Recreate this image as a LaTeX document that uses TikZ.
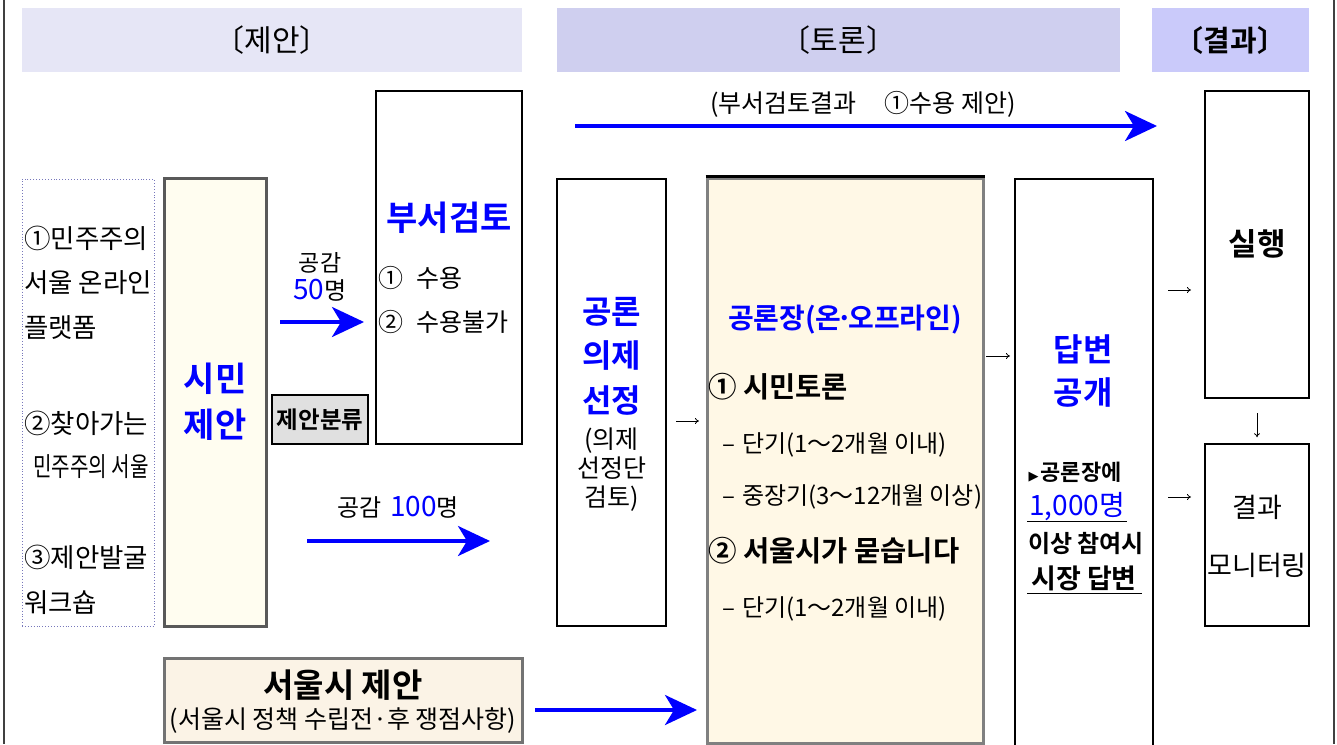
\documentclass[tikz,border=0pt]{standalone}
\usepackage{fontspec}
\usepackage{graphicx}
\setmainfont{Noto Sans CJK KR}[BoldFont={Noto Sans CJK KR Bold}]
\newfontfamily\dejavu{DejaVu Sans}
\usetikzlibrary{arrows.meta}
\definecolor{hdrA}{HTML}{E6E6F6}
\definecolor{hdrB}{HTML}{CFCFEF}
\definecolor{hdrC}{HTML}{CACAFA}
\definecolor{ivory}{HTML}{FFFDF0}
\definecolor{cream}{HTML}{FFF8E6}
\definecolor{beige}{HTML}{FBF3E6}
\definecolor{kblue}{HTML}{0000FF}
\definecolor{dotc}{HTML}{7777BB}
\newcommand\myfs[2]{\fontsize{#1}{#2}\selectfont}
\newcommand\mydash{–\hspace{7pt}}
\tikzset{
  hdr/.style={inner sep=0, minimum height=64},
  bbox/.style={draw=black, line width=2.5pt, inner sep=0, fill=white},
  gbox/.style={draw=black!65, line width=3pt, inner sep=0},
  txt/.style={inner sep=0, align=center},
  bigarrow/.style={draw=kblue, line width=3.5pt, -{Stealth[length=32pt,width=30pt,inset=9pt]}},
  smallarrow/.style={draw=black, line width=0.8pt, -{To[length=4pt,width=6pt]}},
}
\begin{document}
\begin{tikzpicture}[x=1pt,y=-1pt]
\useasboundingbox (0,0) rectangle (1337,744);
% frame lines
\draw[black!75, line width=2.5pt] (4,0) -- (4,744);
\draw[black!75, line width=2.5pt] (1334,0) -- (1334,744);

% headers
\node[hdr, fill=hdrA, minimum width=500] (hA) at (272,40) {};
\node[txt, font=\myfs{30}{32}] (hAt) at (hA) {〔제안〕};
\node[hdr, fill=hdrB, minimum width=563] (hB) at (838.5,40) {};
\node[txt, font=\myfs{30}{32}] (hBt) at (hB) {〔토론〕};
\node[hdr, fill=hdrC, minimum width=157] (hC) at (1230.5,40) {};
\node[txt, font=\myfs{29}{32}\bfseries] (hCt) at (hC) {〔결과〕};

% dotted channel box
\node[draw=dotc, dotted, line width=0.9pt, inner sep=0, minimum width=132, minimum height=447] (chan) at (88,402.5) {};
\begin{scope}[every node/.style={txt, anchor=west, font=\myfs{26.5}{28}}]
\node (c1) at (24,238) {①민주주의};
\node (c2) at (24,283) {서울 온라인};
\node (c3) at (24,328) {플랫폼};
\node (c4) at (24,423) {②찾아가는};
\node (c5) at (33,467) {\scalebox{0.76}[1]{민주주의 서울}};
\node (c6) at (24,557) {③제안발굴};
\node (c7) at (24,603) {워크숍};
\end{scope}

% citizen proposal
\node[gbox, draw=black!65, fill=ivory, minimum width=102, minimum height=448] (simin) at (215,402) {};
\node[txt, text=kblue, font=\myfs{34}{46}\bfseries] (simint) at (215,402) {시민\\제안};

% 50 sympathy
\node[txt, font=\myfs{23}{25}] (g50a) at (320,263) {공감};
\node[txt, font=\myfs{24}{27}] (g50b) at (320,290) {{\color{kblue}\myfs{28}{30}50}명};
\coordinate (a1s) at (280,322);
\coordinate (a1e) at (364,322);
\draw[bigarrow] (a1s) -- (a1e);

% classification
\node[bbox, fill=black!12, minimum width=96, minimum height=49, font=\myfs{23.5}{25}\bfseries] (bunryu) at (320,419.5) {제안분류};

% department review
\node[bbox, minimum width=146, minimum height=353] (buseo) at (449,267.5) {};
\node[txt, text=kblue, font=\myfs{34}{36}\bfseries] (buseot) at (449,218) {부서검토};
\node[txt, anchor=west, font=\myfs{25}{27}] (bs1) at (378,278) {①\hspace{13pt}수용};
\node[txt, anchor=west, font=\myfs{25}{27}] (bs2) at (378,322) {②\hspace{13pt}수용불가};

% 100 sympathy
\node[txt, font=\myfs{24}{27}] (g100) at (398,507) {공감\hspace{9pt}{\color{kblue}\myfs{28}{30}100}명};
\coordinate (a2s) at (307,541);
\coordinate (a2e) at (490,541);
\draw[bigarrow] (a2s) -- (a2e);

% top arrow
\node[txt, font=\myfs{25}{27}] (toptxt) at (863,104) {(부서검토결과\hspace{28pt}①수용 제안)};
\coordinate (a3s) at (575,126);
\coordinate (a3e) at (1157,126);
\draw[bigarrow] (a3s) -- (a3e);

% agenda selection
\node[bbox, minimum width=109, minimum height=447] (uije) at (611.5,402.5) {};
\node[txt, text=kblue, font=\myfs{32}{44.5}\bfseries] (uijet) at (611.5,356) {공론\\의제\\선정};
\node[txt, font=\myfs{25}{29}] (uijes) at (611.5,470) {(의제\\선정단\\검토)};
\coordinate (s1s) at (676,421);
\coordinate (s1e) at (699,421);
\draw[smallarrow] (s1s) -- (s1e);

% forum
\node[gbox, draw=black!50, fill=cream, minimum width=276, minimum height=565] (forum) at (845,460.5) {};
\draw[black, line width=3pt] (forum.north west) -- (forum.north east);
\node[txt, text=kblue, font=\myfs{28}{30}\bfseries] (forumt) at (845,320) {공론장(온\kern-5pt·\kern-5pt오프라인)};
\node[txt, anchor=west, font=\myfs{28.5}{30}\bfseries] (f1) at (708,387) {① 시민토론};
\node[txt, anchor=west, font=\myfs{24}{26}] (f2) at (722,445) {\mydash 단기(1～2개월 이내)};
\node[txt, anchor=west, font=\myfs{24}{26}] (f3) at (722,497) {\mydash 중장기(3～12개월 이상)};
\node[txt, anchor=west, font=\myfs{28.5}{30}\bfseries] (f4) at (708,551) {② 서울시가 묻습니다};
\node[txt, anchor=west, font=\myfs{24}{26}] (f5) at (722,609) {\mydash 단기(1～2개월 이내)};
\coordinate (s2s) at (986,356);
\coordinate (s2e) at (1010,356);
\draw[smallarrow] (s2s) -- (s2e);

% answer disclosure
\node[bbox, minimum width=138, minimum height=569] (dap) at (1084,463.5) {};
\node[txt, text=kblue, font=\myfs{32}{43}\bfseries] (dapt) at (1083,371.5) {답변\\공개};
\node[txt, font=\myfs{22}{24}\bfseries] (d1) at (1075,472) {{\dejavu\myfs{13}{13}▶}\hspace{2pt}공론장에};
\node[txt, text=kblue, font=\myfs{28}{30}] (d2) at (1077,507) {1,000명};
\draw[black, line width=1pt] (1027,521) -- (1127,521);
\node[txt, font=\myfs{24}{26}\bfseries] (d3) at (1086,543) {이상 참여시};
\node[txt, font=\myfs{27}{29}\bfseries] (d4) at (1084,578) {시장 답변};
\draw[black, line width=1pt] (1027,593) -- (1142,593);

% execution
\node[bbox, minimum width=104, minimum height=307] (silhaeng) at (1257,244.5) {};
\node[txt, font=\myfs{31}{34}\bfseries] (silt) at (1257,244) {실행};
\node[bbox, minimum width=104, minimum height=182] (monitor) at (1257,535) {};
\node[txt, font=\myfs{27}{58}] (mont) at (1257,536) {결과\\모니터링};
\coordinate (s3s) at (1168,290);
\coordinate (s3e) at (1191,290);
\draw[smallarrow] (s3s) -- (s3e);
\coordinate (s4s) at (1168,497);
\coordinate (s4e) at (1191,497);
\draw[smallarrow] (s4s) -- (s4e);
\draw[smallarrow] (silhaeng.south) ++(0,14) coordinate (s5s) -- ++(0,24) coordinate (s5e);

% Seoul proposal
\node[gbox, draw=black!55, fill=beige, minimum width=358, minimum height=84] (seoul) at (343,700) {};
\node[txt, font=\myfs{33}{35}\bfseries] (seoult) at (343,685) {서울시 제안};
\node[txt, font=\myfs{25}{27}] (seouls) at (343,721) {(서울시 정책 수립전·후 쟁점사항)};
\coordinate (a4s) at (535,710);
\coordinate (a4e) at (697,710);
\draw[bigarrow] (a4s) -- (a4e);
\end{tikzpicture}
\end{document}
